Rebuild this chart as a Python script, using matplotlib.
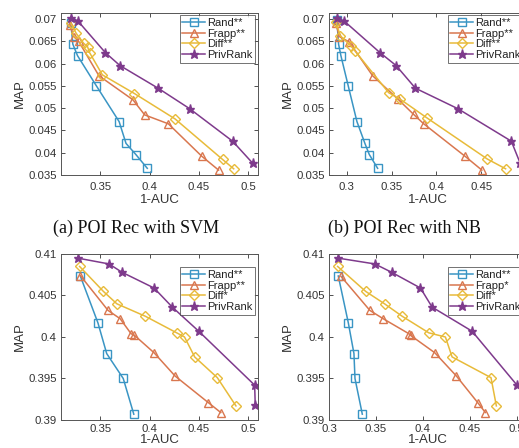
import matplotlib
matplotlib.use("Agg")
import matplotlib.pyplot as plt
from matplotlib.ticker import FuncFormatter

plt.rcParams['font.family'] = ['Liberation Sans', 'DejaVu Sans']

# ---------------- data ----------------
series_names = ["Rand", "Frapp", "Diff", "PrivRank"]

# (a) POI Rec with SVM
a_rand_x = [0.320, 0.322, 0.3268, 0.346, 0.369, 0.376, 0.386, 0.3976]
a_rand_y = [0.0692, 0.0644, 0.0618, 0.0550, 0.0470, 0.0421, 0.0396, 0.0365]
a_frapp_x = [0.319, 0.323, 0.328, 0.3485, 0.383, 0.395, 0.419, 0.453, 0.470]
a_frapp_y = [0.0688, 0.0661, 0.0650, 0.0573, 0.0519, 0.0485, 0.0465, 0.0392, 0.0361]
a_diff_x = [0.320, 0.3255, 0.333, 0.337, 0.339, 0.352, 0.3846, 0.4258, 0.474, 0.4853]
a_diff_y = [0.0691, 0.0668, 0.0646, 0.0638, 0.0625, 0.0575, 0.0533, 0.0476, 0.0385, 0.0364]
a_priv_x = [0.320, 0.3268, 0.355, 0.3698, 0.4086, 0.4406, 0.4842, 0.5048]
a_priv_y = [0.0702, 0.0697, 0.0625, 0.0596, 0.0545, 0.0499, 0.0426, 0.0376]

# (b) POI Rec with NB
b_rand_x = [0.2888, 0.2907, 0.2933, 0.3015, 0.3112, 0.3201, 0.325, 0.3343]
b_rand_y = [0.0698, 0.0644, 0.0618, 0.0550, 0.0470, 0.0421, 0.0396, 0.0365]
b_frapp_x = [0.2877, 0.2915, 0.3026, 0.3287, 0.3567, 0.3746, 0.3858, 0.432, 0.4507]
b_frapp_y = [0.0691, 0.0661, 0.0649, 0.0573, 0.0521, 0.0486, 0.0465, 0.0392, 0.0361]
b_diff_x = [0.288, 0.2925, 0.3045, 0.3093, 0.3466, 0.3597, 0.3896, 0.4567, 0.4772]
b_diff_y = [0.0693, 0.0663, 0.0640, 0.0628, 0.0535, 0.0520, 0.0478, 0.0386, 0.0364]
b_priv_x = [0.2888, 0.2963, 0.3369, 0.3549, 0.3765, 0.4239, 0.4836, 0.4936]
b_priv_y = [0.0702, 0.0697, 0.0625, 0.0596, 0.0545, 0.0499, 0.0426, 0.0376]

# (c) bottom-left
c_rand_x = [0.3296, 0.3475, 0.3564, 0.3732, 0.3839]
c_rand_y = [0.40735, 0.4017, 0.3980, 0.3950, 0.3907]
c_frapp_x = [0.3296, 0.3578, 0.3701, 0.3811, 0.3846, 0.4045, 0.4258, 0.4595, 0.4722]
c_frapp_y = [0.4074, 0.4032, 0.4022, 0.4004, 0.4002, 0.3981, 0.3953, 0.3921, 0.3909]
c_diff_x = [0.3289, 0.353, 0.3667, 0.3956, 0.4275, 0.4354, 0.4457, 0.4687, 0.4876]
c_diff_y = [0.4085, 0.4055, 0.4040, 0.4025, 0.4005, 0.4000, 0.3976, 0.3951, 0.3917]
c_priv_x = [0.3272, 0.3588, 0.3719, 0.4045, 0.423, 0.4498, 0.5066, 0.5072]
c_priv_y = [0.4095, 0.4088, 0.4078, 0.4059, 0.4036, 0.4007, 0.3942, 0.3918]

# (d) bottom-right
d_rand_x = [0.3099, 0.3206, 0.3266, 0.3277, 0.3355]
d_rand_y = [0.40735, 0.4017, 0.3980, 0.3950, 0.3907]
d_frapp_x = [0.3128, 0.3436, 0.3578, 0.3851, 0.3869, 0.4128, 0.4358, 0.4585, 0.4667]
d_frapp_y = [0.4073, 0.4032, 0.4022, 0.4004, 0.4002, 0.3981, 0.3953, 0.3921, 0.3909]
d_diff_x = [0.3092, 0.339, 0.3592, 0.378, 0.4064, 0.4241, 0.4312, 0.4727, 0.4784]
d_diff_y = [0.4085, 0.4055, 0.4040, 0.4025, 0.4005, 0.4000, 0.3976, 0.3951, 0.3917]
d_priv_x = [0.3099, 0.3489, 0.3667, 0.3975, 0.4099, 0.4525, 0.5004]
d_priv_y = [0.4095, 0.4088, 0.4078, 0.4059, 0.4036, 0.4007, 0.3942]

a_labels = ["Rand**", "Frapp**", "Diff**", "PrivRank"]
b_labels = ["Rand**", "Frapp**", "Diff**", "PrivRank"]
c_labels = ["Rand**", "Frapp**", "Diff*", "PrivRank"]
d_labels = ["Rand**", "Frapp*", "Diff*", "PrivRank"]

a_xticks = [0.35, 0.4, 0.45, 0.5]
b_xticks = [0.3, 0.35, 0.4, 0.45, 0.5]
c_xticks = [0.35, 0.4, 0.45, 0.5]
d_xticks = [0.3, 0.35, 0.4, 0.45, 0.5]
top_yticks = [0.035, 0.04, 0.045, 0.05, 0.055, 0.06, 0.065, 0.07]
bot_yticks = [0.39, 0.395, 0.4, 0.405, 0.41]

captions = ["(a) POI Rec with SVM", "(b) POI Rec with NB"]

# ---------------- style ----------------
colors = ["#3a95c4", "#d9774f", "#e8bb3a", "#7e3a8c"]
markers = ["s", "^", "D", "*"]
msizes = [5.2, 6, 4.8, 6.5]

W, H = 519, 448
fig = plt.figure(figsize=(W / 100, H / 100), dpi=100)


def px_axes(left, right, top, bottom):
    return fig.add_axes([left / W, 1 - bottom / H, (right - left) / W, (bottom - top) / H])


fmt = FuncFormatter(lambda v, p: f"{round(v, 4):g}")


def draw(ax, data, labels, xlim, ylim, xticks, yticks, leg_anchor, xpad, xlabelpad):
    for i, (xs, ys) in enumerate(data):
        face = colors[i] if markers[i] == "*" else "none"
        ax.plot(xs, ys, color=colors[i], lw=1.1, marker=markers[i], ms=msizes[i],
                mfc=face, mec=colors[i], mew=1.0, label=labels[i])
    ax.set_xlim(*xlim)
    ax.set_ylim(*ylim)
    ax.set_xticks(xticks)
    ax.set_yticks(yticks)
    ax.xaxis.set_major_formatter(fmt)
    ax.yaxis.set_major_formatter(fmt)
    ax.tick_params(direction="in", top=True, right=True, labelsize=8.2,
                   length=3, width=0.6, colors="#333333", labelcolor="#333333")
    ax.tick_params(axis="x", pad=xpad)
    ax.tick_params(axis="y", pad=3)
    for s in ax.spines.values():
        s.set_color("#555555")
        s.set_linewidth(0.7)
    ax.set_xlabel("1-AUC", fontsize=9.5, color="#333333", labelpad=xlabelpad)
    ax.set_ylabel("MAP", fontsize=9.5, color="#333333", labelpad=2)
    leg = ax.legend(loc="upper right", bbox_to_anchor=leg_anchor, fontsize=8,
                    frameon=True, fancybox=False, edgecolor="#333333",
                    handlelength=2.0, handletextpad=0.2, labelspacing=0.05,
                    borderpad=0.25, borderaxespad=0.0)
    leg.get_frame().set_linewidth(0.6)
    for t in leg.get_texts():
        t.set_color("#222222")


ax_a = px_axes(61, 258, 13, 175)
draw(ax_a, [(a_rand_x, a_rand_y), (a_frapp_x, a_frapp_y), (a_diff_x, a_diff_y), (a_priv_x, a_priv_y)],
     a_labels, (0.31, 0.51), (0.035, 0.0714), a_xticks, top_yticks, (0.985, 0.985), 5, 1.5)

ax_b = px_axes(329, 526, 13, 175)
draw(ax_b, [(b_rand_x, b_rand_y), (b_frapp_x, b_frapp_y), (b_diff_x, b_diff_y), (b_priv_x, b_priv_y)],
     b_labels, (0.28, 0.50), (0.035, 0.0714), b_xticks, top_yticks, (0.985, 0.985), 5, 1.5)

ax_c = px_axes(61, 258, 254, 420)
draw(ax_c, [(c_rand_x, c_rand_y), (c_frapp_x, c_frapp_y), (c_diff_x, c_diff_y), (c_priv_x, c_priv_y)],
     c_labels, (0.31, 0.51), (0.39, 0.41), c_xticks, bot_yticks, (0.985, 0.92), 3, 0)

ax_d = px_axes(329, 526, 254, 420)
draw(ax_d, [(d_rand_x, d_rand_y), (d_frapp_x, d_frapp_y), (d_diff_x, d_diff_y), (d_priv_x, d_priv_y)],
     d_labels, (0.30, 0.51), (0.39, 0.41), d_xticks, bot_yticks, (0.985, 0.92), 3, 0)

fig.text(136 / W, 1 - 228 / H, captions[0], ha="center", va="center",
         fontsize=13, family=["Liberation Serif", "DejaVu Serif"], color="#111111")
fig.text(404 / W, 1 - 228 / H, captions[1], ha="center", va="center",
         fontsize=13, family=["Liberation Serif", "DejaVu Serif"], color="#111111")

fig.savefig("out.png", dpi=100)
